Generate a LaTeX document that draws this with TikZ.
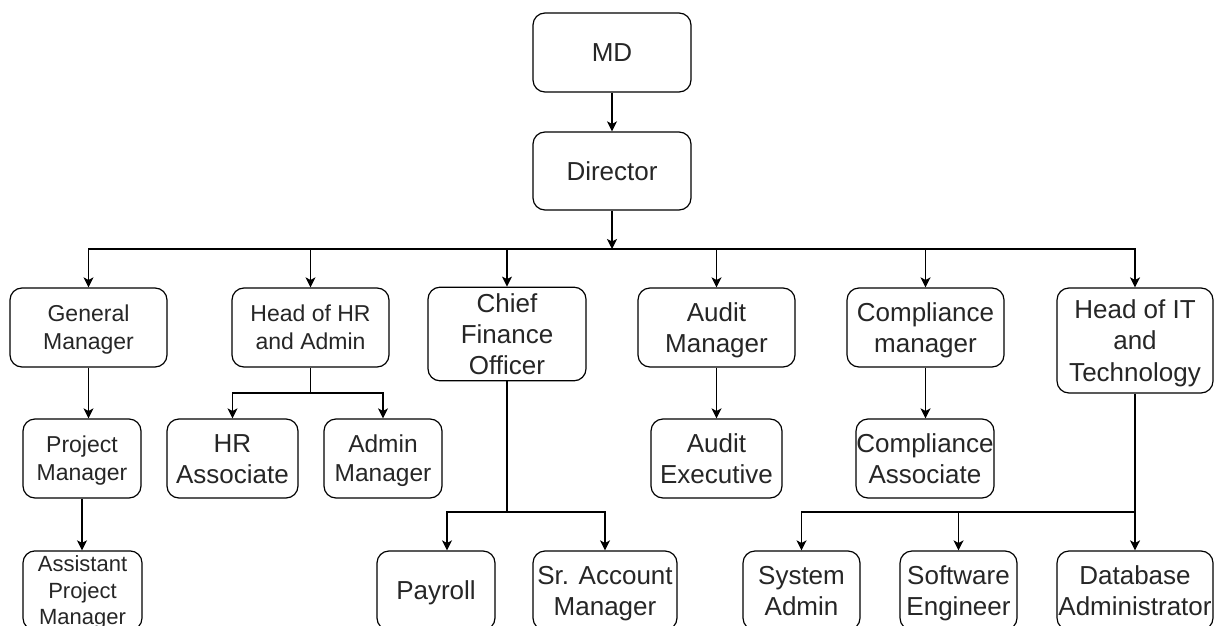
\documentclass[tikz,border=0pt]{standalone}
\usepackage{fontspec}
\setmainfont{Liberation Sans}
\usetikzlibrary{arrows.meta}
% strut that puts the cap height of each line at its vertical middle
\newcommand{\Lstrut}{\rule[-0.242em]{0pt}{1.2em}}
\begin{document}
\begin{tikzpicture}[x=1pt,y=-1pt,
  box/.style={draw=black, line width=1.2pt, rounded corners=12pt, fill=white,
    align=center, inner sep=0pt, text=black!85,
    font=\fontsize{26}{31.2}\selectfont},
  small/.style={font=\fontsize{23}{27.6}\selectfont},
  tiny/.style={font=\fontsize{22}{26.4}\selectfont},
  mid/.style={font=\fontsize{24.5}{29.4}\selectfont},
  conn/.style={line width=1.2pt, draw=black},
  arr/.style={conn, -{Stealth[length=10pt,width=10pt,inset=2.5pt]}},
]
\fill[white] (0,0) rectangle (1220,626);
\useasboundingbox (0,0) rectangle (1220,626);
\clip (0,0) rectangle (1220,626);

% top of the chart
\node[box, minimum width=158pt, minimum height=79pt] (md) at (612,52.5) {MD\Lstrut};
\node[box, minimum width=158pt, minimum height=78pt] (dir) at (612,171) {Director\Lstrut};

% department heads
\node[box, small, minimum width=157pt, minimum height=79pt] (gm) at (88.5,327.5) {General\Lstrut\\Manager\Lstrut};
\node[box, small, minimum width=157pt, minimum height=79pt] (hohr) at (310.5,327.5) {Head of HR\Lstrut\\and Admin\Lstrut};
\node[box, minimum width=158pt, minimum height=92pt] (cfo) at (507,334) {Chief\Lstrut\\Finance\Lstrut\\Officer\Lstrut};
\node[box, minimum width=157pt, minimum height=79pt] (am) at (716.5,327.5) {Audit\Lstrut\\Manager\Lstrut};
\node[box, minimum width=157pt, minimum height=79pt] (cm) at (925.5,327.5) {Compliance\Lstrut\\manager\Lstrut};
\node[box, minimum width=156pt, minimum height=105pt] (hoit) at (1135,340.5) {Head of IT\Lstrut\\and\Lstrut\\Technology\Lstrut};

% second level
\node[box, small, minimum width=118pt, minimum height=79pt] (pm) at (82,458.5) {Project\Lstrut\\Manager\Lstrut};
\node[box, minimum width=131pt, minimum height=79pt] (hra) at (232.5,458.5) {HR\Lstrut\\Associate\Lstrut};
\node[box, mid, minimum width=118pt, minimum height=79pt] (adm) at (383,458.5) {Admin\Lstrut\\Manager\Lstrut};
\node[box, minimum width=131pt, minimum height=79pt] (ae) at (716.5,458.5) {Audit\Lstrut\\Executive\Lstrut};
\node[box, minimum width=138pt, minimum height=79pt] (ca) at (925,458.5) {Compliance\Lstrut\\Associate\Lstrut};

% third level
\node[box, tiny, minimum width=119pt, minimum height=79pt] (apm) at (82.5,590.5) {Assistant\Lstrut\\Project\Lstrut\\Manager\Lstrut};
\node[box, minimum width=118pt, minimum height=79pt] (pay) at (436,590.5) {Payroll\Lstrut};
\node[box, minimum width=144pt, minimum height=79pt] (sam) at (605,590.5) {Sr. Account\Lstrut\\Manager\Lstrut};
\node[box, minimum width=117pt, minimum height=79pt] (sysa) at (801.5,590.5) {System\Lstrut\\Admin\Lstrut};
\node[box, minimum width=117pt, minimum height=79pt] (se) at (958.5,590.5) {Software\Lstrut\\Engineer\Lstrut};
\node[box, minimum width=156pt, minimum height=79pt] (da) at (1135,590.5) {Database\Lstrut\\Administrator\Lstrut};

% junction points of the branching connectors
\coordinate (bus) at (612,249);
\coordinate (hrj) at (310.5,393);
\coordinate (cfj) at (507,512);
\coordinate (itj) at (1135,512);

% connectors
\draw[arr] (md.south) -- (dir.north);
\draw[arr] (dir.south) -- (bus);
\draw[arr] (bus) -| (gm.north);
\draw[arr] (bus) -| (hohr.north);
\draw[arr] (bus) -| (cfo.north);
\draw[arr] (bus) -| (am.north);
\draw[arr] (bus) -| (cm.north);
\draw[arr] (bus) -| (hoit.north);

\draw[arr] (gm.south) -- (gm.south |- pm.north);
\draw[arr] (pm.south) -- (pm.south |- apm.north);

\draw[conn] (hohr.south) -- (hrj);
\draw[arr] (hrj) -| (hra.north);
\draw[arr] (hrj) -| (adm.north);

\draw[conn] (cfo.south) -- (cfj);
\draw[arr] (cfj) -| ([xshift=11pt]pay.north);
\draw[arr] (cfj) -| (sam.north);

\draw[arr] (am.south) -- (ae.north);
\draw[arr] (cm.south) -- (cm.south |- ca.north);

\draw[arr] (hoit.south) -- (da.north);
\draw[arr] (itj) -| (sysa.north);
\draw[arr] (itj) -| (se.north);
\end{tikzpicture}
\end{document}
